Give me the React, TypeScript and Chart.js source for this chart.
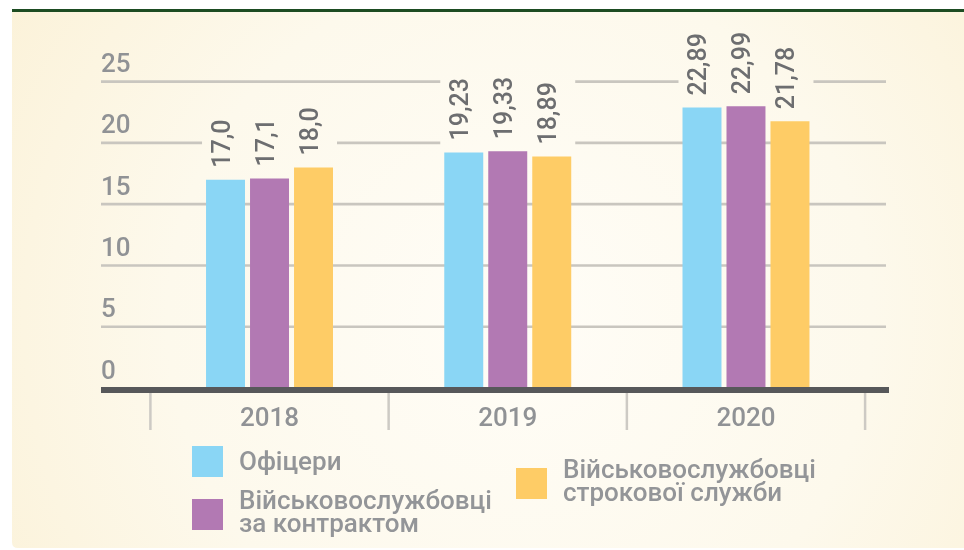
import React, { useEffect, useRef } from 'react';
import { Chart, registerables } from 'chart.js';

Chart.register(...registerables);

const years = ['2018', '2019', '2020'];
const officers = [17.0, 19.23, 22.89];
const contract = [17.1, 19.33, 22.99];
const conscripts = [18.0, 18.89, 21.78];
const decimals = [1, 2, 2];
const seriesNames = [
  'Офіцери',
  'Військовослужбовці за контрактом',
  'Військовослужбовці строкової служби',
];
const legendLines = [
  ['Офіцери'],
  ['Військовослужбовці', 'за контрактом'],
  ['Військовослужбовці', 'строкової служби'],
];
const colors = ['#8AD6F5', '#B279B3', '#FECC66'];
const yMax = 25;
const yStep = 5;

const FONT = 'Roboto, "Noto Sans", sans-serif';

function makeBg(ctx: CanvasRenderingContext2D) {
  const g = ctx.createRadialGradient(520, 320, 0, 520, 320, 640);
  g.addColorStop(0, '#fffdf7');
  g.addColorStop(0.55, '#fdf9ec');
  g.addColorStop(1, '#fbf1d6');
  return g;
}

const decorPlugin = {
  id: 'decor',
  beforeDraw(chart: any) {
    const ctx: CanvasRenderingContext2D = chart.ctx;
    const W = chart.width;
    const H = chart.height;
    ctx.save();
    ctx.fillStyle = '#ffffff';
    ctx.fillRect(0, 0, W, H);
    const left = 12, top = 12, right = W, bottom = H - 2, r = 6;
    ctx.beginPath();
    ctx.moveTo(left, top);
    ctx.lineTo(right, top);
    ctx.lineTo(right, bottom);
    ctx.lineTo(left + r, bottom);
    ctx.quadraticCurveTo(left, bottom, left, bottom - r);
    ctx.closePath();
    ctx.fillStyle = makeBg(ctx);
    ctx.fill();
    ctx.fillStyle = '#1d4c22';
    ctx.fillRect(left, 9, W - left, 3);
    ctx.restore();
  },
  beforeDatasetsDraw(chart: any) {
    const ctx: CanvasRenderingContext2D = chart.ctx;
    const ys = chart.scales.y;
    const xs = chart.scales.x;
    ctx.save();
    ctx.strokeStyle = '#c9c6bf';
    ctx.lineWidth = 2.7;
    for (let v = yStep; v <= yMax; v += yStep) {
      const y = ys.getPixelForValue(v);
      ctx.beginPath();
      ctx.moveTo(101, y);
      ctx.lineTo(886, y);
      ctx.stroke();
    }
    const zeroY = ys.getPixelForValue(0);
    ctx.strokeStyle = '#cdcac4';
    ctx.lineWidth = 2.5;
    for (let i = 0; i <= years.length; i++) {
      const x = xs.getPixelForValue(i - 0.5);
      ctx.beginPath();
      ctx.moveTo(x, zeroY + 4);
      ctx.lineTo(x, zeroY + 42);
      ctx.stroke();
    }
    ctx.font = `500 25px ${FONT}`;
    const bg = makeBg(ctx);
    chart.data.datasets.forEach((ds: any, di: number) => {
      const meta = chart.getDatasetMeta(di);
      meta.data.forEach((bar: any, i: number) => {
        const label = (ds.data[i] as number).toFixed(decimals[i]).replace('.', ',');
        const tw = ctx.measureText(label).width;
        ctx.fillStyle = bg;
        ctx.fillRect(bar.x - bar.width / 2 - 4, bar.y - 12 - tw - 4, bar.width + 8, tw + 14);
      });
    });
    ctx.restore();
  },
  afterDatasetsDraw(chart: any) {
    const ctx: CanvasRenderingContext2D = chart.ctx;
    const ys = chart.scales.y;
    const zeroY = ys.getPixelForValue(0);
    ctx.save();
    ctx.fillStyle = '#57585a';
    ctx.fillRect(101, zeroY - 1, 788, 6);
    ctx.font = `500 25px ${FONT}`;
    ctx.fillStyle = '#6d6e70';
    ctx.textAlign = 'left';
    ctx.textBaseline = 'middle';
    chart.data.datasets.forEach((ds: any, di: number) => {
      const meta = chart.getDatasetMeta(di);
      meta.data.forEach((bar: any, i: number) => {
        const label = (ds.data[i] as number).toFixed(decimals[i]).replace('.', ',');
        ctx.save();
        ctx.translate(bar.x - 2, bar.y - 12);
        ctx.rotate(-Math.PI / 2);
        ctx.fillText(label, 0, 0);
        ctx.restore();
      });
    });
    const pos = [
      [192, 446],
      [192, 499],
      [516, 468],
    ];
    ctx.font = `500 26px ${FONT}`;
    ctx.textBaseline = 'alphabetic';
    chart.data.datasets.forEach((ds: any, di: number) => {
      const [sx, sy] = pos[di];
      ctx.fillStyle = ds.backgroundColor;
      ctx.fillRect(sx, sy, 31, 31);
      ctx.fillStyle = '#939598';
      const lines = legendLines[di];
      const first = lines.length === 1 ? sy + 24 : sy + 9.5;
      lines.forEach((t, li) => {
        ctx.fillText(t, sx + 47, first + li * 23.5);
      });
    });
    ctx.restore();
  },
};

export default function App() {
  const ref = useRef<HTMLCanvasElement>(null);
  useEffect(() => {
    if (!ref.current) return;
    const chart = new Chart(ref.current, {
      type: 'bar',
      data: {
        labels: years,
        datasets: [
          { label: seriesNames[0], data: officers, backgroundColor: colors[0] },
          { label: seriesNames[1], data: contract, backgroundColor: colors[1] },
          { label: seriesNames[2], data: conscripts, backgroundColor: colors[2] },
        ],
      },
      options: {
        animation: false,
        responsive: true,
        maintainAspectRatio: false,
        datasets: {
          bar: { categoryPercentage: 0.554, barPercentage: 0.886 },
        },
        layout: { padding: { left: 101, right: 98.9, top: 81.7, bottom: 0 } },
        plugins: { legend: { display: false }, tooltip: { enabled: false } },
        scales: {
          x: {
            grid: { display: false, drawTicks: false },
            border: { display: false },
            ticks: {
              color: '#909295',
              padding: 16,
              font: { family: FONT, size: 26, weight: '500' },
            },
            afterFit: (s: any) => {
              s.height = 162;
            },
          },
          y: {
            min: 0,
            max: yMax,
            grid: { display: false, drawTicks: false },
            border: { display: false },
            ticks: {
              stepSize: yStep,
              crossAlign: 'far',
              labelOffset: -16,
              color: '#909295',
              font: { family: FONT, size: 26, weight: '500' },
            },
            afterFit: (s: any) => {
              s.width = 49.4;
            },
          },
        },
      } as any,
      plugins: [decorPlugin],
    });
    return () => chart.destroy();
  }, []);
  return (
    <div style={{ position: 'fixed', left: 0, top: 0, width: 964, height: 550 }}>
      <canvas ref={ref} />
    </div>
  );
}
